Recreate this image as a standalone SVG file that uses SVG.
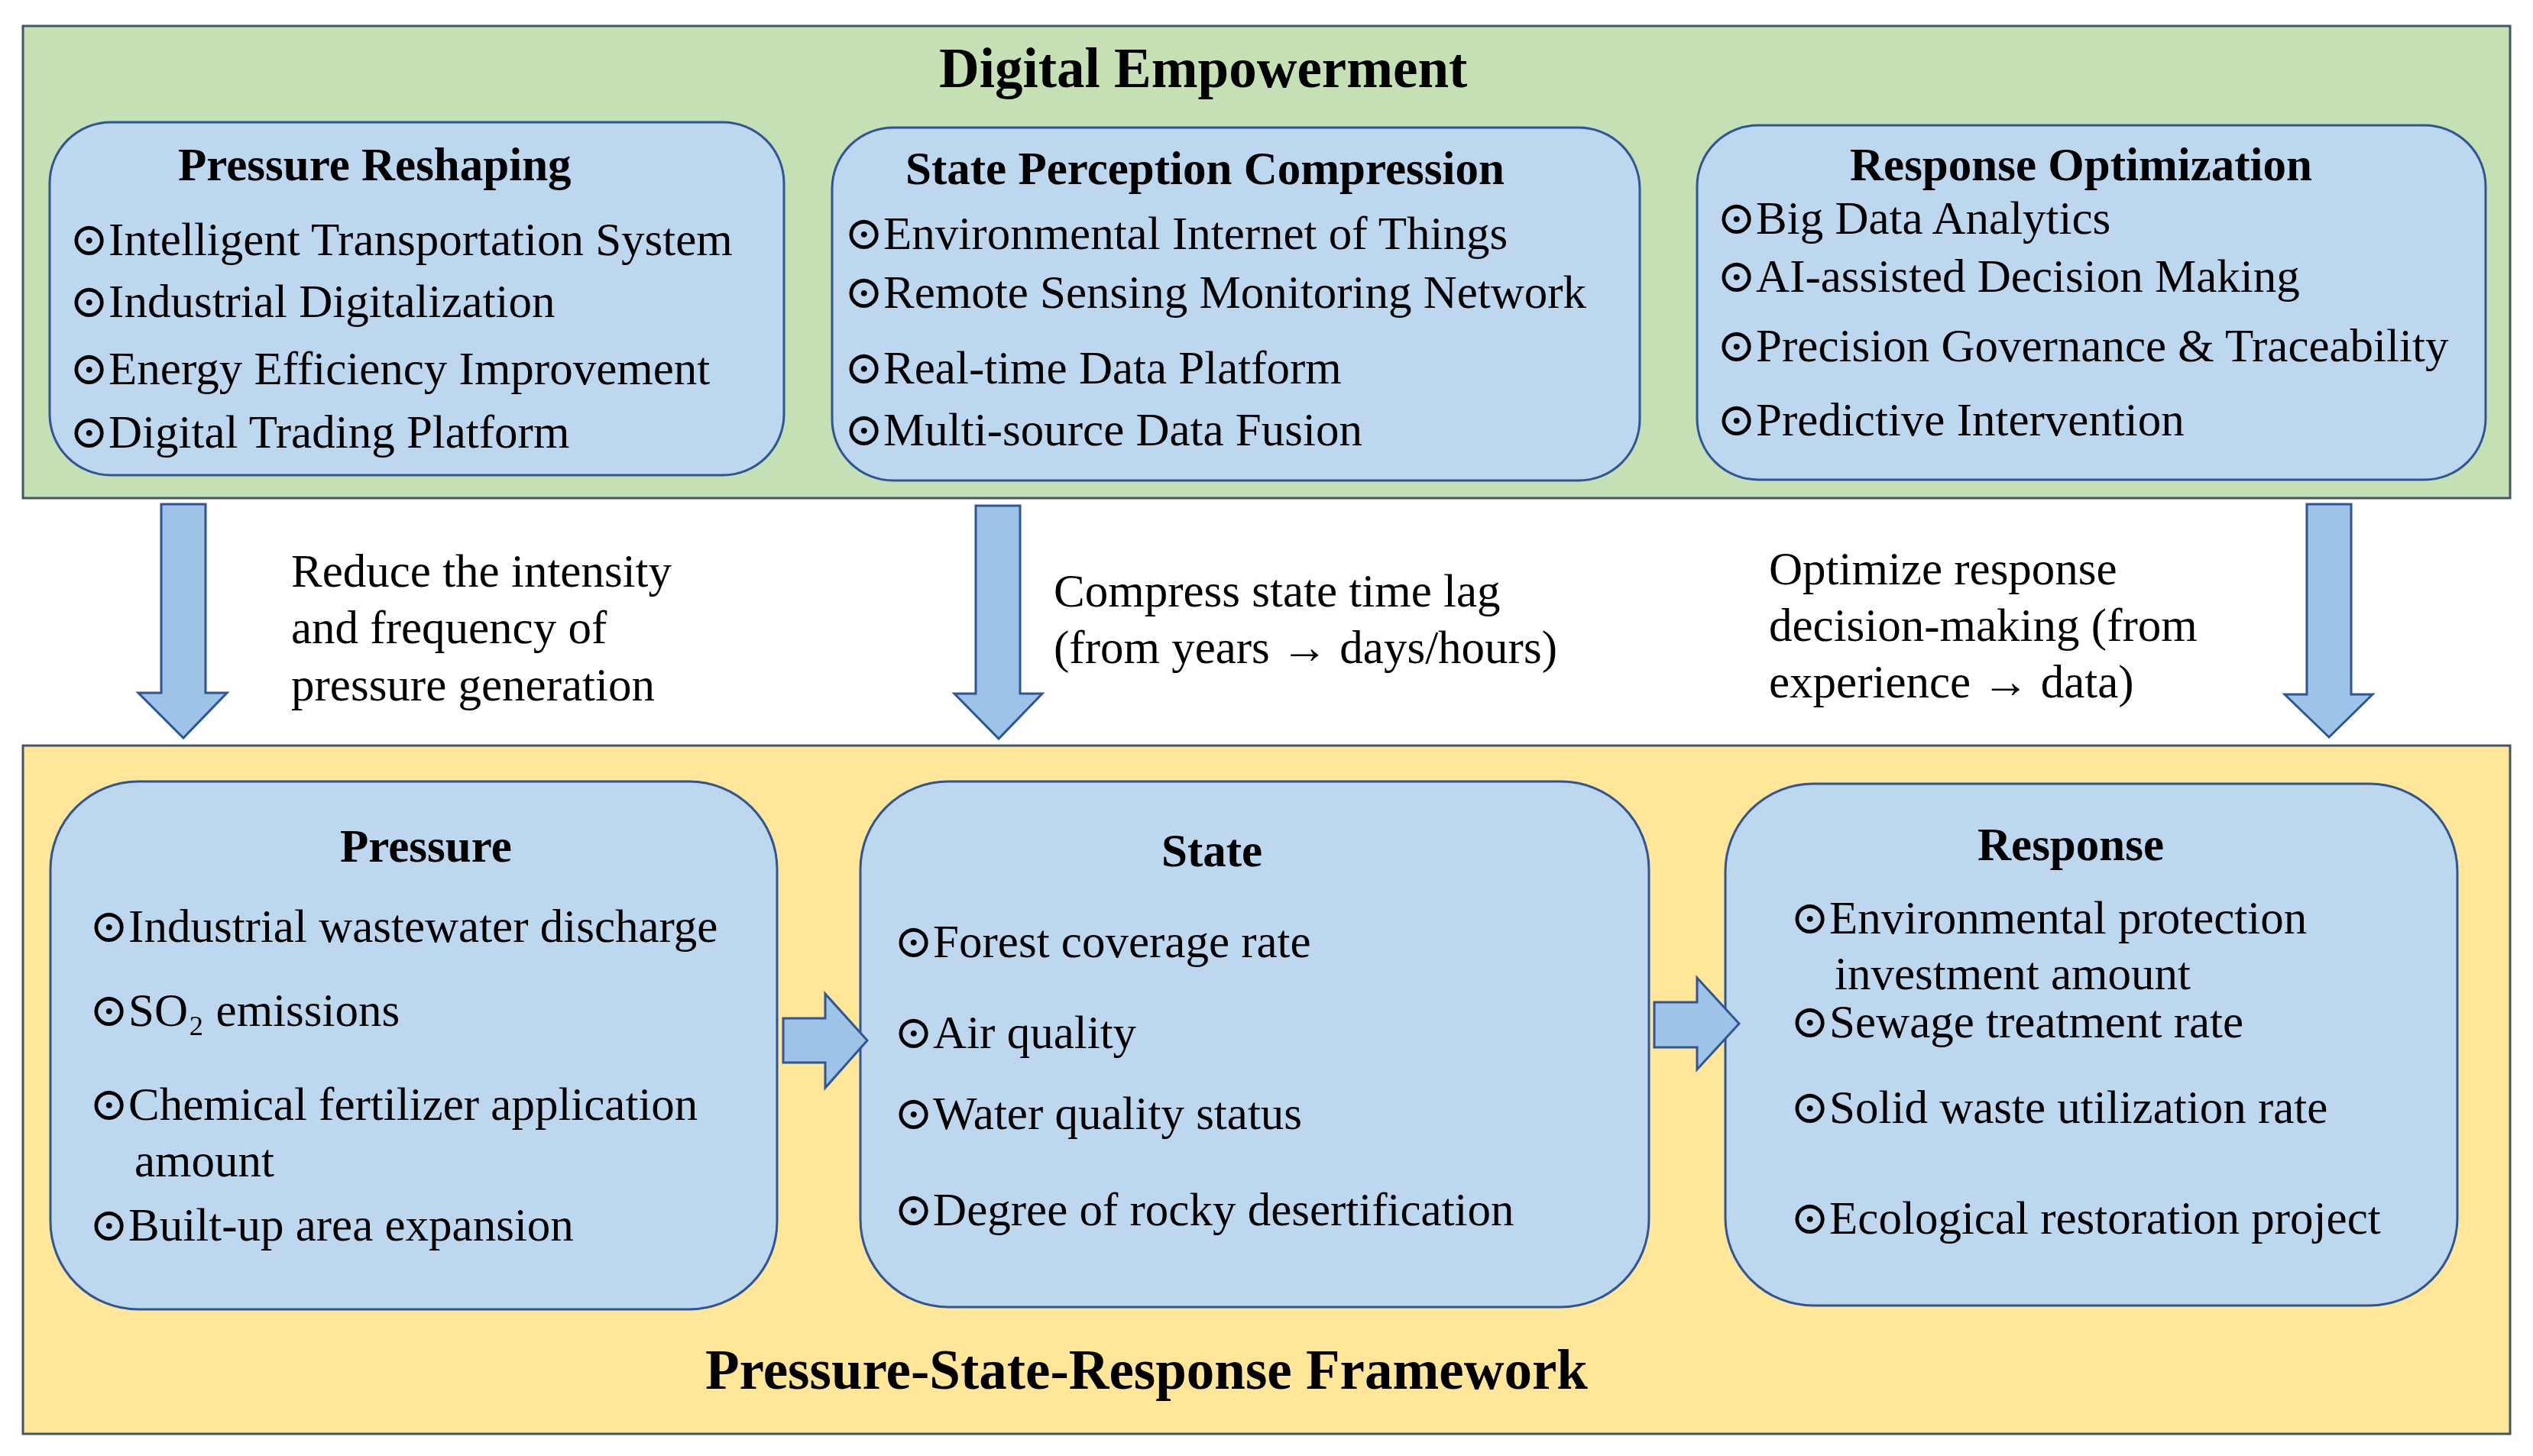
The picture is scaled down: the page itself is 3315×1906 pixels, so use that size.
<svg xmlns="http://www.w3.org/2000/svg" width="3315" height="1906" viewBox="0 0 3315 1906">
<style>
.panel{stroke:#44546A;stroke-width:3}
.node{fill:#BDD7EE;stroke:#2F5597;stroke-width:3}
.arrow{fill:#9DC3E6;stroke:#2F5597;stroke-width:3;stroke-linejoin:miter}
text{font-family:"Liberation Serif","Times New Roman","DejaVu Serif",serif;fill:#000}
.big{font-size:73px;font-weight:bold}
.ttl{font-size:61px;font-weight:bold}
.itm{font-size:61px}
</style>
<rect width="3315" height="1906" fill="#FFFFFF"/>
<g id="digital-empowerment">
<rect class="panel" x="30" y="34" width="3255" height="618" fill="#C5E0B4"/>
<text class="big" x="1229" y="114">Digital Empowerment</text>
</g>
<g id="psr-framework">
<rect class="panel" x="30" y="976" width="3255" height="901" fill="#FFE699"/>
<text class="big" x="923" y="1818">Pressure-State-Response Framework</text>
</g>
<g id="pressure-reshaping">
<rect class="node" x="65" y="160" width="961" height="462" rx="80" ry="80"/>
<text class="ttl" x="233" y="236">Pressure Reshaping</text>
<text class="itm" x="91" y="334">⊙Intelligent Transportation System</text>
<text class="itm" x="91" y="415">⊙Industrial Digitalization</text>
<text class="itm" x="91" y="503">⊙Energy Efficiency Improvement</text>
<text class="itm" x="91" y="586">⊙Digital Trading Platform</text>
</g>
<g id="state-perception-compression">
<rect class="node" x="1089" y="167" width="1057" height="462" rx="80" ry="80"/>
<text class="ttl" x="1185" y="241">State Perception Compression</text>
<text class="itm" x="1105" y="326">⊙Environmental Internet of Things</text>
<text class="itm" x="1105" y="403">⊙Remote Sensing Monitoring Network</text>
<text class="itm" x="1105" y="502">⊙Real-time Data Platform</text>
<text class="itm" x="1105" y="583">⊙Multi-source Data Fusion</text>
</g>
<g id="response-optimization">
<rect class="node" x="2221" y="164" width="1032" height="464" rx="80" ry="80"/>
<text class="ttl" x="2421" y="236">Response Optimization</text>
<text class="itm" x="2247" y="306">⊙Big Data Analytics</text>
<text class="itm" x="2247" y="382">⊙AI-assisted Decision Making</text>
<text class="itm" x="2247" y="473">⊙Precision Governance &amp; Traceability</text>
<text class="itm" x="2247" y="570">⊙Predictive Intervention</text>
</g>
<g id="pressure">
<rect class="node" x="66" y="1023" width="951" height="691" rx="115" ry="115"/>
<text class="ttl" x="445" y="1128">Pressure</text>
<text class="itm" x="117" y="1233">⊙Industrial wastewater discharge</text>
<text class="itm" x="117" y="1343">⊙SO₂ emissions</text>
<text class="itm" x="117" y="1466">⊙Chemical fertilizer application</text>
<text class="itm" x="176" y="1540">amount</text>
<text class="itm" x="117" y="1624">⊙Built-up area expansion</text>
</g>
<g id="state">
<rect class="node" x="1126" y="1023" width="1032" height="688" rx="115" ry="115"/>
<text class="ttl" x="1520" y="1134">State</text>
<text class="itm" x="1170" y="1253">⊙Forest coverage rate</text>
<text class="itm" x="1170" y="1372">⊙Air quality</text>
<text class="itm" x="1170" y="1478">⊙Water quality status</text>
<text class="itm" x="1170" y="1604">⊙Degree of rocky desertification</text>
</g>
<g id="response">
<rect class="node" x="2258" y="1026" width="958" height="683" rx="115" ry="115"/>
<text class="ttl" x="2588" y="1126">Response</text>
<text class="itm" x="2343" y="1222">⊙Environmental protection</text>
<text class="itm" x="2401" y="1295">investment amount</text>
<text class="itm" x="2343" y="1358">⊙Sewage treatment rate</text>
<text class="itm" x="2343" y="1470">⊙Solid waste utilization rate</text>
<text class="itm" x="2343" y="1615">⊙Ecological restoration project</text>
</g>
<g id="connectors">
<polygon class="arrow" points="211,660 269,660 269,907 297,907 240,966 181,907 211,907"/>
<polygon class="arrow" points="1277,662 1335,662 1335,908 1364,908 1307,967 1249,908 1277,908"/>
<polygon class="arrow" points="3019,660 3077,660 3077,909 3105,909 3048,965 2990,909 3019,909"/>
<polygon class="arrow" points="1025,1333 1080,1333 1080,1301 1135,1362 1080,1424 1080,1391 1025,1391"/>
<polygon class="arrow" points="2165,1312 2221,1312 2221,1280 2276,1340 2221,1400 2221,1371 2165,1371"/>
<text class="itm" x="381" y="768">Reduce the intensity</text>
<text class="itm" x="381" y="842">and frequency of</text>
<text class="itm" x="381" y="917">pressure generation</text>
<text class="itm" x="1379" y="794">Compress state time lag</text>
<text class="itm" x="1379" y="868">(from years → days/hours)</text>
<text class="itm" x="2315" y="765">Optimize response</text>
<text class="itm" x="2315" y="839">decision-making (from</text>
<text class="itm" x="2315" y="913">experience → data)</text>
</g>
</svg>
